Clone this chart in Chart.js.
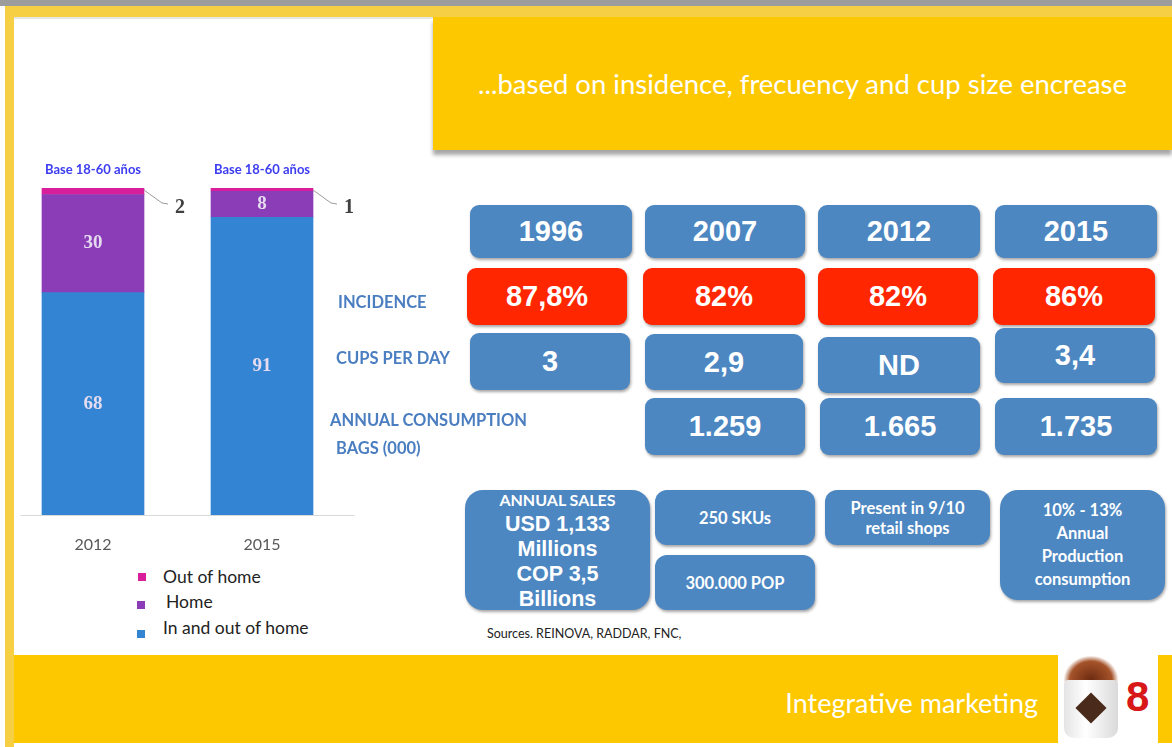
<!DOCTYPE html>
<html>
<head>
<meta charset="utf-8">
<script src="https://cdn.jsdelivr.net/npm/chart.js@4.4.1/dist/chart.umd.min.js"></script>
<style>
  html,body{margin:0;padding:0;}
  body{width:1172px;height:747px;position:relative;overflow:hidden;background:#fff;font-family:Lato,"Open Sans",sans-serif;}
  .abs{position:absolute;}
  .box{position:absolute;display:flex;align-items:center;justify-content:center;color:#fff;font-family:"Liberation Sans",Arial,sans-serif;font-weight:bold;box-shadow:1px 2px 3px rgba(0,0,0,0.35);border-radius:9px;box-sizing:border-box;text-align:center;}
  .blue{background:#4c87c2;}
  .red{background:#ff2600;}
  .rowlab{position:absolute;color:#4a7ec0;font-family:Lato,sans-serif;font-weight:bold;font-size:16.5px;white-space:nowrap;line-height:1;}
  .leg{position:absolute;font-family:Lato,sans-serif;font-size:17.5px;color:#222;line-height:1;white-space:nowrap;}
  .sq{position:absolute;width:8px;height:8px;}
</style>
</head>
<body>
<!-- frame -->
<div class="abs" style="left:0;top:0;width:1172px;height:6px;background:#9c9c9c;"></div>
<div class="abs" style="left:5px;top:6px;width:1167px;height:11px;background:#f6cf45;"></div>
<div class="abs" style="left:5px;top:6px;width:9px;height:741px;background:#f6cf45;"></div>
<div class="abs" style="left:14px;top:17px;width:1158px;height:2px;background:#e6e6e6;"></div>

<!-- title -->
<div class="abs" style="left:433px;top:17px;width:739px;height:133px;background:#fec800;box-shadow:0 5px 4px rgba(0,0,0,0.35);"></div>
<div id="title" class="abs" style="left:433px;top:17px;width:739px;height:133px;display:flex;align-items:center;justify-content:center;color:#fff;font-family:Lato,sans-serif;font-size:27.5px;"></div>

<!-- bottom band -->
<div class="abs" style="left:14px;top:655px;width:1158px;height:88px;background:#fec800;"></div>
<div id="footer" class="abs" style="right:134px;top:687px;color:#fff;font-family:Lato,sans-serif;font-size:27px;line-height:32px;white-space:nowrap;"></div>

<!-- logo approximation -->
<div class="abs" style="left:1058px;top:650px;width:100px;height:95px;background:#fff;"></div>
<div class="abs" style="left:1064px;top:656px;width:54px;height:30px;border-radius:50% 50% 20% 20%;background:radial-gradient(ellipse at 50% 80%,#6b2a10,#a5532a 55%,rgba(255,255,255,0) 72%);"></div>
<div class="abs" style="left:1064px;top:680px;width:54px;height:58px;background:linear-gradient(90deg,#e4e4e4,#fff 40%,#dadada);border-radius:4px 4px 10px 10px;"></div>
<div class="abs" style="left:1080px;top:697px;width:22px;height:22px;background:#4a2a1a;transform:rotate(45deg);"></div>
<div class="abs" style="left:1126px;top:676px;color:#d81818;font-family:'Liberation Sans',Arial,sans-serif;font-weight:bold;font-size:42px;line-height:1;">8</div>

<!-- chart -->
<canvas id="c" width="360" height="420" style="position:absolute;left:0;top:140px;width:360px;height:420px;"></canvas>
<div id="legend"></div>

<div id="table"></div>
<div id="sources" class="abs" style="left:487px;top:626px;font-family:Lato,sans-serif;font-size:12.5px;color:#222;white-space:nowrap;"></div>

<script>
// ---------- data ----------
const categories = ['2012', '2015'];
const seriesNames = ['In and out of home', 'Home', 'Out of home'];
const inAndOutOfHome = [68, 91];
const home = [30, 8];
const outOfHome = [2, 1];
const baseLabel = 'Base 18-60 años';

const years = ['1996', '2007', '2012', '2015'];
const incidence = ['87,8%', '82%', '82%', '86%'];
const cupsPerDay = ['3', '2,9', 'ND', '3,4'];
const annualConsumption = [null, '1.259', '1.665', '1.735'];
const rowLabels = ['INCIDENCE', 'CUPS PER DAY', 'ANNUAL CONSUMPTION', 'BAGS (000)'];
const salesLines = ['ANNUAL SALES', 'USD 1,133', 'Millions', 'COP 3,5', 'Billions'];
const skus = '250 SKUs';
const pop = '300.000 POP';
const presence = ['Present in 9/10', 'retail shops'];
const production = ['10% - 13%', 'Annual', 'Production', 'consumption'];
const titleText = '...based on insidence, frecuency and cup size encrease';
const footerText = 'Integrative marketing';
const sourcesText = 'Sources. REINOVA, RADDAR, FNC,';

// ---------- styles ----------
const seriesColors = ['#3484d4', '#8b3db8', '#d91e9b'];

document.getElementById('title').textContent = titleText;
document.getElementById('footer').textContent = footerText;
document.getElementById('sources').textContent = sourcesText;

// legend (HTML, top-down order: last series first)
const legendLayout = [{y: 568, tx: 163}, {y: 593, tx: 166}, {y: 619, tx: 163}];
const legendSquares = [{x: 138, y: 573}, {x: 137, y: 601}, {x: 137, y: 630}];
const legendEl = document.getElementById('legend');
[2, 1, 0].forEach((si, k) => {
  const sq = document.createElement('div');
  sq.className = 'sq';
  sq.style.left = legendSquares[k].x + 'px';
  sq.style.top = legendSquares[k].y + 'px';
  sq.style.background = seriesColors[si];
  legendEl.appendChild(sq);
  const t = document.createElement('div');
  t.className = 'leg';
  t.style.left = legendLayout[k].tx + 'px';
  t.style.top = legendLayout[k].y + 'px';
  t.textContent = seriesNames[si];
  legendEl.appendChild(t);
});

// ---------- table of boxes ----------
const tableEl = document.getElementById('table');
function box(cls, l, t, w, h, html, extra) {
  const d = document.createElement('div');
  d.className = 'box ' + cls;
  d.style.left = l + 'px'; d.style.top = t + 'px';
  d.style.width = w + 'px'; d.style.height = h + 'px';
  d.innerHTML = html;
  if (extra) Object.assign(d.style, extra);
  tableEl.appendChild(d);
  return d;
}
const yearPos = [[470,205,162,53],[645,205,160,53],[818,205,162,53],[995,205,162,53]];
const incPos = [[467,268,160,57],[643,268,162,57],[818,268,160,57],[993,268,162,57]];
const cupsPos = [[470,333,160,57],[645,334,158,56],[818,337,162,56],[995,328,160,55]];
const consPos = [null,[645,398,160,57],[820,398,160,57],[995,398,162,57]];
const bigFont = {fontSize: '29px'};
years.forEach((y, i) => box('blue', ...yearPos[i], y, bigFont));
incidence.forEach((v, i) => box('red', ...incPos[i], v, bigFont));
cupsPerDay.forEach((v, i) => box('blue', ...cupsPos[i], v, bigFont));
annualConsumption.forEach((v, i) => { if (v !== null) box('blue', ...consPos[i], v, bigFont); });

const rowLabelPos = [[338, 294], [336, 350], [330, 412], [336, 440]];
rowLabels.forEach((t, i) => {
  const d = document.createElement('div');
  d.className = 'rowlab';
  d.style.left = rowLabelPos[i][0] + 'px';
  d.style.top = rowLabelPos[i][1] + 'px';
  d.textContent = t;
  tableEl.appendChild(d);
});

// bottom info boxes
const salesHtml = '<div style="line-height:25px;margin-top:-3px">' +
  '<div style="font-family:Lato,sans-serif;font-size:16px;">' + salesLines[0] + '</div>' +
  salesLines.slice(1).map(s => '<div style="font-size:21.5px;">' + s + '</div>').join('') + '</div>';
box('blue', 465, 490, 185, 120, salesHtml, {borderRadius: '18px', alignItems: 'flex-start', overflow: 'visible'});
const smallFont = {fontFamily: 'Lato,sans-serif', fontSize: '16.5px', borderRadius: '12px'};
box('blue', 655, 490, 160, 55, skus, smallFont);
box('blue', 655, 555, 160, 55, pop, smallFont);
box('blue', 825, 490, 165, 55, presence.join('<br>'), Object.assign({}, smallFont, {lineHeight: '20px', alignItems: 'flex-start', paddingTop: '8px'}));
box('blue', 1000, 490, 165, 110, production.join('<br>'), Object.assign({}, smallFont, {lineHeight: '23px', borderRadius: '18px'}));

// ---------- chart ----------
const labelPlugin = {
  id: 'segLabels',
  beforeDatasetsDraw(chart) {
    const ctx = chart.ctx, a = chart.chartArea;
    ctx.save();
    ctx.strokeStyle = '#d9d9d9';
    ctx.lineWidth = 1;
    ctx.beginPath();
    ctx.moveTo(a.left + 12, a.bottom + 0.5);
    ctx.lineTo(a.right + 8, a.bottom + 0.5);
    ctx.stroke();
    ctx.restore();
  },
  afterDatasetsDraw(chart) {
    const ctx = chart.ctx;
    ctx.save();
    const n = chart.data.datasets.length;
    chart.data.datasets.forEach((ds, di) => {
      const meta = chart.getDatasetMeta(di);
      meta.data.forEach((el, i) => {
        const v = ds.data[i];
        const props = el.getProps(['x', 'y', 'base', 'width'], true);
        if (di === n - 1) {
          const rx = props.x + props.width / 2;
          ctx.strokeStyle = '#9a9a9a';
          ctx.lineWidth = 1;
          ctx.beginPath();
          ctx.moveTo(rx, props.y + 2);
          ctx.lineTo(rx + 18, props.y + 15);
          ctx.lineTo(rx + 24, props.y + 16);
          ctx.stroke();
          ctx.fillStyle = '#404040';
          ctx.font = 'bold 20px "Liberation Serif", serif';
          ctx.textAlign = 'center';
          ctx.textBaseline = 'middle';
          ctx.fillText(String(v), rx + 36, props.y + 20);
          ctx.fillStyle = '#3c3cf0';
          ctx.font = 'bold 13px Lato, sans-serif';
          ctx.fillText(baseLabel, props.x, props.y - 18);
        } else {
          ctx.fillStyle = '#e6dcef';
          ctx.font = 'bold 19px "Liberation Serif", serif';
          ctx.textAlign = 'center';
          ctx.textBaseline = 'middle';
          ctx.fillText(String(v), props.x, (props.y + props.base) / 2);
        }
      });
    });
    ctx.restore();
  }
};

new Chart(document.getElementById('c'), {
  type: 'bar',
  data: {
    labels: categories,
    datasets: [
      {label: seriesNames[0], data: inAndOutOfHome, backgroundColor: seriesColors[0], barThickness: 102},
      {label: seriesNames[1], data: home, backgroundColor: seriesColors[1], barThickness: 102},
      {label: seriesNames[2], data: outOfHome, backgroundColor: seriesColors[2], barThickness: 102}
    ]
  },
  options: {
    responsive: false,
    animation: false,
    devicePixelRatio: 1,
    layout: {padding: {top: 48, bottom: 5, left: 8.5, right: 13.5}},
    plugins: {legend: {display: false}, tooltip: {enabled: false}},
    scales: {
      x: {
        stacked: true,
        grid: {display: false, drawTicks: false},
        border: {display: false},
        ticks: {padding: 20, color: '#595959', font: {family: 'Lato', size: 16}},
        afterFit: s => { s.height = 40; }
      },
      y: {stacked: true, display: false, min: 0, max: 100}
    }
  },
  plugins: [labelPlugin]
});
</script>
</body>
</html>
